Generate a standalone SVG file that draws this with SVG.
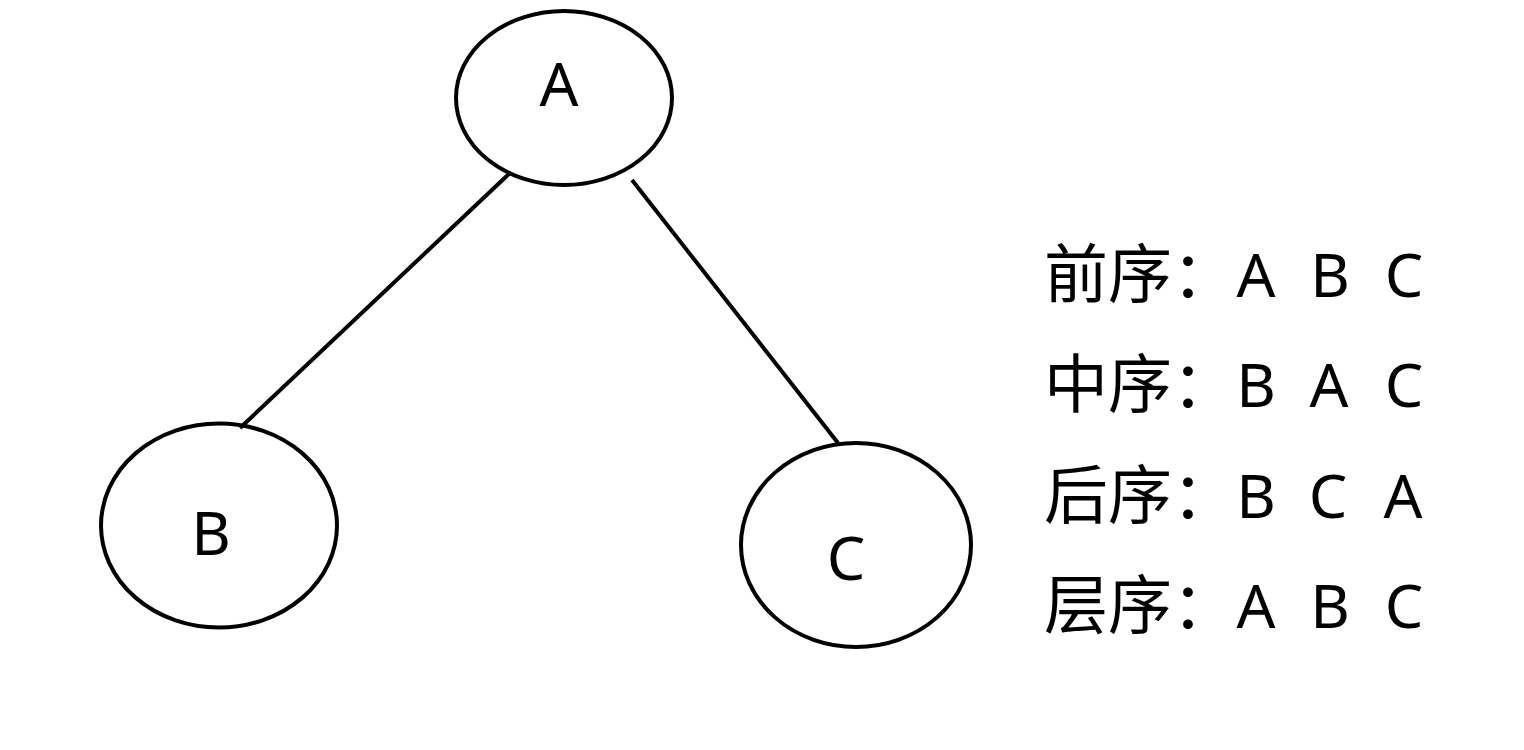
<svg xmlns="http://www.w3.org/2000/svg" width="1524" height="750" viewBox="0 0 1524 750">
<style>
.node ellipse{fill:none;stroke:#000;stroke-width:4}
.lbl{font-family:"Noto Sans","Open Sans","Liberation Sans",sans-serif;font-size:61px;fill:#000;text-anchor:middle}
.cjk{font-family:"Noto Sans CJK SC","Noto Sans",sans-serif;font-size:64px;fill:#000}
.edge{stroke:#000;stroke-width:4;fill:none}
</style>
<rect width="1524" height="750" fill="#fff"/>
<g id="connectors">
<line class="edge" x1="511" y1="172" x2="240" y2="428"/>
<line class="edge" x1="632" y1="180" x2="838" y2="443"/>
</g>
<g id="node-A" class="node">
<ellipse cx="564" cy="98" rx="108" ry="87"/>
<text class="lbl" x="559" y="106">A</text>
</g>
<g id="node-B" class="node">
<ellipse cx="219" cy="525.5" rx="118" ry="102"/>
<text class="lbl" x="211" y="555">B</text>
</g>
<g id="node-C" class="node">
<ellipse cx="856" cy="545" rx="115" ry="102"/>
<text class="lbl" x="846" y="580">C</text>
</g>
<g id="legend">
<text class="cjk" x="1044" y="297">前序：</text>
<text class="lbl" x="1256" y="297">A</text><text class="lbl" x="1330" y="297">B</text><text class="lbl" x="1404" y="297">C</text>
<text class="cjk" x="1044" y="407">中序：</text>
<text class="lbl" x="1256" y="407">B</text><text class="lbl" x="1329" y="407">A</text><text class="lbl" x="1404" y="407">C</text>
<text class="cjk" x="1044" y="518">后序：</text>
<text class="lbl" x="1256" y="518">B</text><text class="lbl" x="1328" y="518">C</text><text class="lbl" x="1403" y="518">A</text>
<text class="cjk" x="1044" y="628">层序：</text>
<text class="lbl" x="1256" y="628">A</text><text class="lbl" x="1330" y="628">B</text><text class="lbl" x="1404" y="628">C</text>
</g>
</svg>
